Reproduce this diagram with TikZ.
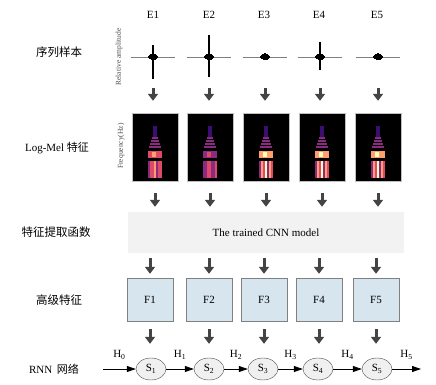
\documentclass[tikz,border=0pt]{standalone}
\usepackage{fontspec}
\setmainfont{Liberation Serif}
\newfontfamily\cjk{Noto Sans CJK SC}
\usepackage{xcolor}
\usepackage{tikz}
\usetikzlibrary{arrows.meta,shapes.geometric}
\definecolor{arrowgray}{HTML}{444444}
\definecolor{boxblue}{HTML}{D6E5EE}
\definecolor{cnngray}{HTML}{F2F2F2}
\definecolor{magA}{HTML}{3B0F70}
\definecolor{magB}{HTML}{8C2981}
\definecolor{magC}{HTML}{DE4968}
\definecolor{magD}{HTML}{FE9F6D}
\definecolor{magE}{HTML}{FCFDBF}

\begin{document}
\begin{tikzpicture}
            [x=1pt, y=-1pt,
            every node/.style={font=\fontsize{11}{13}\selectfont, inner sep=0pt},
            rowlabel/.style={font=\fontsize{11.5}{13}\selectfont\cjk},
            axislabel/.style={font=\fontsize{7.5}{8}\selectfont, text=gray!60!black, rotate=90},
            wave/.style n args={3}{minimum width=46pt, minimum height=48pt,
                path picture={
                    \begin{scope}[shift={(path picture bounding box.center)}]
                        \draw[gray, line width=0.8pt] (-22,0) -- (22,0);
                        \draw[line width=1.2pt] (0,-#1) -- (0,#2);
                        \begin{scope}[xscale=#3/4]
                            \foreach \dx/\h in {-4/1, -3/1.8, -2/2.5, -1/3.2, 0/3.5, 1/2.8, 2/3, 3/2, 4/1.2}
                                \fill (\dx-0.6,-\h) rectangle (\dx+0.6,\h);
                        \end{scope}
                    \end{scope}}},
            spec/.style 2 args={draw=gray!50, fill=black, minimum width=46pt, minimum height=68pt,
                path picture={
                    \begin{scope}[shift={(path picture bounding box.center)}]
                        % lower block
                        \foreach \x/\c in {-7/magB, -5/#1, -3/magC, -1/#2, 1/magB, 3/#1, 5/magC}
                            \fill[\c] (\x,14) rectangle ++(2,17);
                        % middle band
                        \fill[#1] (-7,4) rectangle (7,11);
                        \fill[#2] (-3,5) rectangle (1,10);
                        % upper bands
                        \foreach \y/\w in {-1/6, -4/5, -7/4, -10/3}
                            \fill[magB] (-\w,\y) rectangle (\w,\y+1.5);
                        \fill[magA] (-2,-21) rectangle (2,-10);
                    \end{scope}}},
            cnnbox/.style={fill=cnngray, minimum width=276pt, minimum height=41pt},
            featbox/.style={draw=gray, fill=boxblue, minimum width=46pt, minimum height=43pt},
            state/.style={ellipse, draw=black!70, fill=gray!12, minimum width=30pt, minimum height=22pt},
            downarrow/.style={arrowgray, line width=3pt, -{Triangle[width=10pt,length=7pt]}},
            harrow/.style={black, line width=0.8pt, -{Triangle[width=6pt,length=9pt]}},
            hlabel/.style={above=9pt}]

            \useasboundingbox (0,0) rectangle (436,385);

            % column heads
            \node (e1) at (153,15) {E1};
            \node (e2) at (209,15) {E2};
            \node (e3) at (264,15) {E3};
            \node (e4) at (319,15) {E4};
            \node (e5) at (377,15) {E5};

            % row labels
            \node[rowlabel] (rowseq) at (59,52) {序列样本};
            \node (rowmel) at (57,148) {Log-Mel {\cjk 特征}};
            \node[rowlabel] (rowcnn) at (56,232) {特征提取函数};
            \node[rowlabel] (rowfeat) at (59,300) {高级特征};
            \node (rowrnn) at (54,369) {RNN\, {\cjk 网络}};

            % waveforms
            \node[axislabel] (amp) at (119,57) {Relative amplitude};
            \node[wave={12}{22}{4}] (w1) at (153,57) {};
            \node[wave={22}{20}{4}] (w2) at (209,57) {};
            \node[wave={0}{0}{7}] (w3) at (265,57) {};
            \node[wave={15}{13}{3.5}] (w4) at (320,57) {};
            \node[wave={0}{0}{5.5}] (w5) at (378,57) {};

            % spectrograms
            \node[axislabel] (freq) at (121,146) {Frequency(Hz)};
            \node[spec={magC}{magD}] (m1) at (155,147) {};
            \node[spec={magB}{magC}] (m2) at (210,147) {};
            \node[spec={magD}{magE}] (m3) at (266,147) {};
            \node[spec={magD}{magE}] (m4) at (322,147) {};
            \node[spec={magD}{magE}] (m5) at (378,147) {};

            % cnn
            \node[cnnbox] (cnn) at (266,232.5) {The trained CNN model};

            % features
            \node[featbox] (f1) at (150,299.5) {F1};
            \node[featbox] (f2) at (209,299.5) {F2};
            \node[featbox] (f3) at (264,299.5) {F3};
            \node[featbox] (f4) at (319,299.5) {F4};
            \node[featbox] (f5) at (376,299.5) {F5};

            % rnn states
            \node[state] (s1) at (151,369) {S\textsubscript{1}};
            \node[state] (s2) at (209,369) {S\textsubscript{2}};
            \node[state] (s3) at (263,369) {S\textsubscript{3}};
            \node[state] (s4) at (318,369) {S\textsubscript{4}};
            \node[state] (s5) at (377,369) {S\textsubscript{5}};
            \coordinate (hin) at (103,369);
            \coordinate (hout) at (421,369);

            % arrows between rows
            \draw[downarrow, shorten <=7pt, shorten >=12pt] (w1.south) -- (w1.south |- m1.north);
            \draw[downarrow, shorten <=7pt, shorten >=12pt] (w2.south) -- (w2.south |- m2.north);
            \draw[downarrow, shorten <=7pt, shorten >=12pt] (w3.south) -- (w3.south |- m3.north);
            \draw[downarrow, shorten <=7pt, shorten >=12pt] (w4.south) -- (w4.south |- m4.north);
            \draw[downarrow, shorten <=7pt, shorten >=12pt] (w5.south) -- (w5.south |- m5.north);

            \draw[downarrow, shorten <=12pt, shorten >=5pt] (m1.south) -- (m1.south |- cnn.north);
            \draw[downarrow, shorten <=12pt, shorten >=5pt] (m2.south) -- (m2.south |- cnn.north);
            \draw[downarrow, shorten <=12pt, shorten >=5pt] (m3.south) -- (m3.south |- cnn.north);
            \draw[downarrow, shorten <=12pt, shorten >=5pt] (m4.south) -- (m4.south |- cnn.north);
            \draw[downarrow, shorten <=12pt, shorten >=5pt] (m5.south) -- (m5.south |- cnn.north);

            \draw[downarrow, shorten <=5pt, shorten >=4pt] (f1.north |- cnn.south) -- (f1.north);
            \draw[downarrow, shorten <=5pt, shorten >=4pt] (f2.north |- cnn.south) -- (f2.north);
            \draw[downarrow, shorten <=5pt, shorten >=4pt] (f3.north |- cnn.south) -- (f3.north);
            \draw[downarrow, shorten <=5pt, shorten >=4pt] (f4.north |- cnn.south) -- (f4.north);
            \draw[downarrow, shorten <=5pt, shorten >=4pt] (f5.north |- cnn.south) -- (f5.north);

            \draw[downarrow, shorten <=8pt, shorten >=14pt] (f1.south) -- (f1.south |- s1.north);
            \draw[downarrow, shorten <=8pt, shorten >=14pt] (f2.south) -- (f2.south |- s2.north);
            \draw[downarrow, shorten <=8pt, shorten >=14pt] (f3.south) -- (f3.south |- s3.north);
            \draw[downarrow, shorten <=8pt, shorten >=14pt] (f4.south) -- (f4.south |- s4.north);
            \draw[downarrow, shorten <=8pt, shorten >=14pt] (f5.south) -- (f5.south |- s5.north);

            % hidden states
            \draw[harrow] (hin) -- node[hlabel] {H\textsubscript{0}} (s1);
            \draw[harrow] (s1) -- node[hlabel] {H\textsubscript{1}} (s2);
            \draw[harrow] (s2) -- node[hlabel] {H\textsubscript{2}} (s3);
            \draw[harrow] (s3) -- node[hlabel] {H\textsubscript{3}} (s4);
            \draw[harrow] (s4) -- node[hlabel] {H\textsubscript{4}} (s5);
            \draw[harrow] (s5) -- node[hlabel] {H\textsubscript{5}} (hout);
        \end{tikzpicture}
\end{document}
